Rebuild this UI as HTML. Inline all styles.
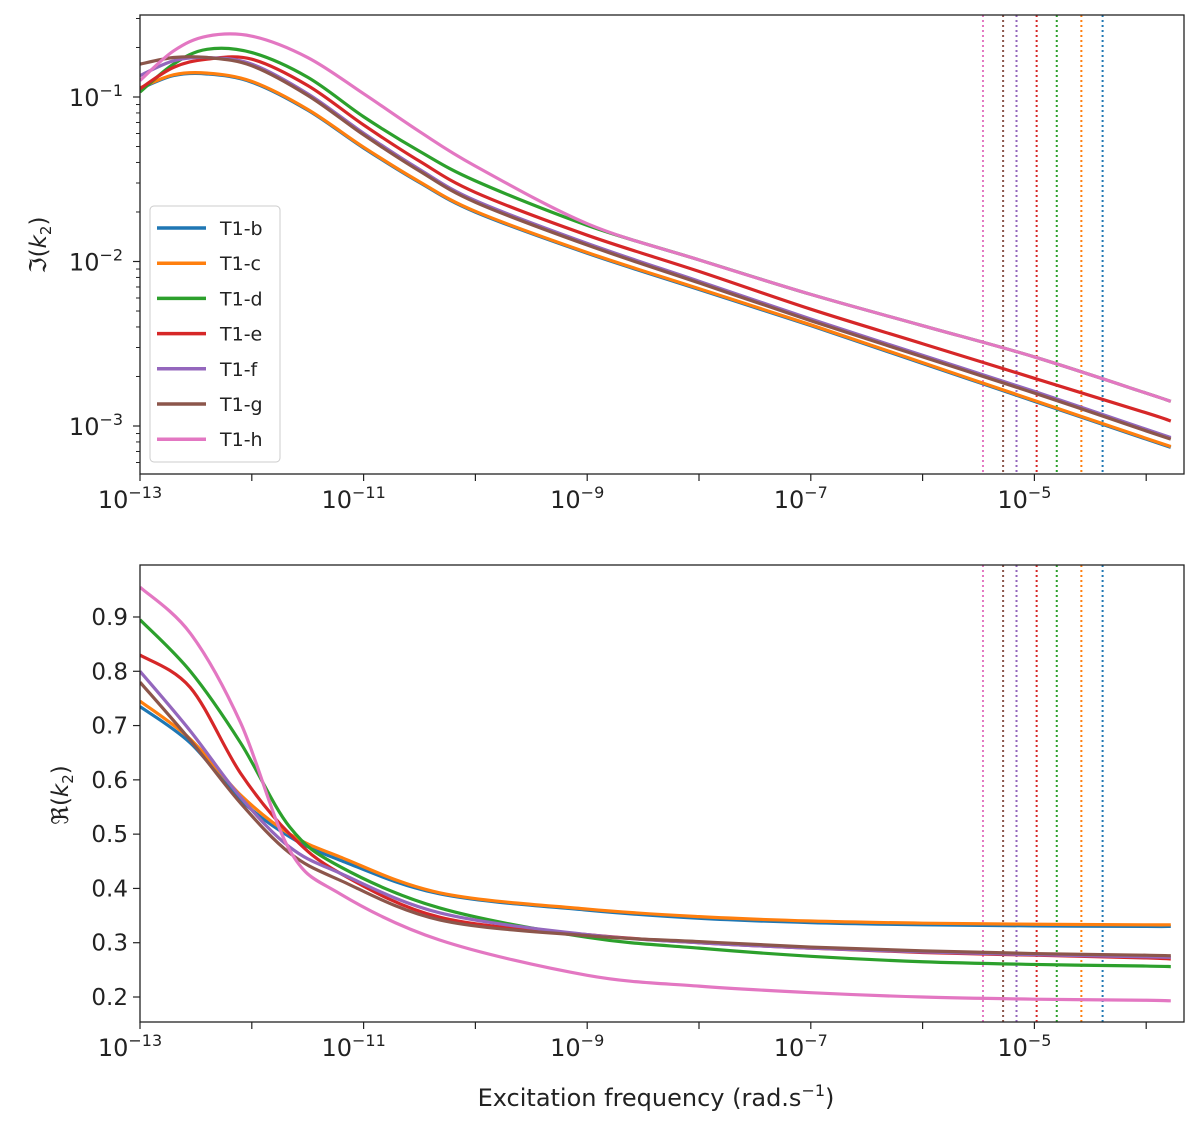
<!DOCTYPE html>
<html><head><meta charset="utf-8"><style>
body{margin:0;background:#fff;width:1200px;height:1120px;overflow:hidden}
svg text{font-family:"DejaVu Sans","Liberation Sans",sans-serif;fill:#222}
</style></head><body>
<svg id="chart" width="1200" height="1120" xmlns="http://www.w3.org/2000/svg"></svg>
<script>
const seriesNames=["T1-b","T1-c","T1-d","T1-e","T1-f","T1-g","T1-h"];
const seriesColors=["#1f77b4","#ff7f0e","#2ca02c","#d62728","#9467bd","#8c564b","#e377c2"];
const topFreqLog=[-13,-12.7,-12.4,-12,-11.5,-11,-10.5,-10,-9,-8,-7,-6,-5,-4,-3.78];
const imB=[-.95,-.87,-.86,-.91,-1.08,-1.31,-1.52,-1.70,-1.95,-2.17,-2.39,-2.62,-2.85,-3.08,-3.13];
const imC=[-.945,-.865,-.855,-.905,-1.075,-1.305,-1.515,-1.695,-1.945,-2.165,-2.385,-2.615,-2.845,-3.075,-3.125];
const imD=[-.97,-.80,-.71,-.73,-.88,-1.12,-1.33,-1.51,-1.78,-1.99,-2.2,-2.39,-2.58,-2.8,-2.85];
const imE=[-.95,-.82,-.77,-.77,-.93,-1.17,-1.39,-1.58,-1.84,-2.06,-2.29,-2.5,-2.71,-2.92,-2.97];
const imF=[-.87,-.78,-.76,-.80,-.98,-1.22,-1.44,-1.63,-1.89,-2.12,-2.35,-2.57,-2.79,-3.02,-3.07];
const imG=[-.80,-.76,-.76,-.81,-.99,-1.23,-1.45,-1.64,-1.90,-2.13,-2.36,-2.58,-2.80,-3.03,-3.08];
const imH=[-.90,-.72,-.63,-.63,-.76,-.98,-1.21,-1.42,-1.77,-1.99,-2.2,-2.39,-2.58,-2.8,-2.85];
const botFreqLog=[-13,-12.55,-12.1,-11.66,-11.21,-10.32,-9,-8,-7,-6,-5,-4,-3.78];
const reB=[.735,.668,.563,.495,.452,.39,.36,.345,.337,.333,.331,.33,.33];
const reC=[.745,.675,.572,.50,.458,.392,.362,.348,.34,.336,.334,.333,.333];
const reD=[.895,.80,.668,.513,.44,.364,.31,.29,.275,.265,.26,.257,.256];
const reE=[.83,.77,.612,.50,.428,.347,.315,.30,.29,.282,.277,.272,.27];
const reF=[.80,.69,.568,.476,.428,.355,.315,.30,.29,.283,.278,.274,.273];
const reG=[.78,.673,.557,.465,.415,.342,.313,.302,.292,.285,.28,.277,.276];
const reH=[.955,.87,.705,.47,.39,.305,.24,.22,.208,.2,.196,.194,.193];
const resonanceLog=[-4.39,-4.58,-4.80,-4.98,-5.16,-5.28,-5.46]; // b..h
const xTickLog=[-13,-11,-9,-7,-5];
const yTopTickLog=[-1,-2,-3];
const yBotTicks=[0.2,0.3,0.4,0.5,0.6,0.7,0.8,0.9];

const NS="http://www.w3.org/2000/svg";
const svg=document.getElementById('chart');
function el(tag,attrs,parent){const e=document.createElementNS(NS,tag);for(const k in attrs)e.setAttribute(k,attrs[k]);(parent||svg).appendChild(e);return e;}
const L=140,R=1184,XMIN=-13,XMAX=-13+(R-L)/111.8;
const x=v=>L+(v-XMIN)/(XMAX-XMIN)*(R-L);
const T1=15,B1=474,YT=-1+82/164.5,YB=-3-48/164.5;
const yTop=v=>T1+(YT-v)/(YT-YB)*(B1-T1);
const T2=565,B2=1022,VT=0.9+52/543,VB=0.2-25/543;
const yBot=v=>T2+(VT-v)/(VT-VB)*(B2-T2);
function smooth(pts){let d=`M${pts[0][0]},${pts[0][1]}`;for(let i=0;i<pts.length-1;i++){const p0=pts[i-1]||pts[i],p1=pts[i],p2=pts[i+1],p3=pts[i+2]||p2;
d+=` C${p1[0]+(p2[0]-p0[0])/6},${p1[1]+(p2[1]-p0[1])/6} ${p2[0]-(p3[0]-p1[0])/6},${p2[1]-(p3[1]-p1[1])/6} ${p2[0]},${p2[1]}`;}return d;}
function sup(base,exp,attrs){const e=el('text',attrs);e.appendChild(document.createTextNode(base));const s=document.createElementNS(NS,'tspan');s.setAttribute('dy','-10');s.setAttribute('font-size','16');s.textContent=exp;e.appendChild(s);return e;}

function panel(top,bot,name){
  const g=el('g',{});
  
  
  const clip=el('clipPath',{id:'c'+name},g);el('rect',{x:L,y:top,width:R-L,height:bot-top},clip);
  resonanceLog.forEach((v,i)=>{const l=el('line',{x1:x(v),x2:x(v),y1:top,y2:bot,stroke:seriesColors[i],'stroke-width':2,'stroke-dasharray':'2,3'},g);
    
    });
  return g;
}
const gTop=panel(T1,B1,'imag-panel');
const imSeries=[imB,imC,imD,imE,imF,imG,imH];
[0,1,2,3,4,5,6].forEach(i=>{const p=el('path',{d:smooth(topFreqLog.map((f,j)=>[x(f),yTop(imSeries[i][j])])),fill:'none',stroke:seriesColors[i],'stroke-width':3.2,'clip-path':'url(#cimag-panel)'},gTop);
  
  });
el('rect',{x:L,y:T1,width:R-L,height:B1-T1,fill:'none',stroke:'#222','stroke-width':1.3});
const gBot=panel(T2,B2,'real-panel');
const reSeries=[reB,reC,reD,reE,reF,reG,reH];
[0,1,2,3,4,5,6].forEach(i=>{const p=el('path',{d:smooth(botFreqLog.map((f,j)=>[x(f),yBot(reSeries[i][j])])),fill:'none',stroke:seriesColors[i],'stroke-width':3.2,'clip-path':'url(#creal-panel)'},gBot);
  
  });
el('rect',{x:L,y:T2,width:R-L,height:B2-T2,fill:'none',stroke:'#222','stroke-width':1.3});
[[B1,'top'],[B2,'bottom']].forEach(([b,nm])=>{
  for(let d=-13;d<=-4;d++){el('line',{x1:x(d),x2:x(d),y1:b,y2:b+7,stroke:'#222','stroke-width':1.2});}
  xTickLog.forEach(v=>{const t=sup('10',String(v).replace('-','−'),{x:x(v)-10,y:b+34,'font-size':24,'text-anchor':'middle'});
    });
});
yTopTickLog.forEach(v=>{el('line',{x1:L-7,x2:L,y1:yTop(v),y2:yTop(v),stroke:'#222','stroke-width':1.2});
  const t=sup('10',String(v).replace('-','−'),{x:L-44,y:yTop(v)+9,'font-size':24,'text-anchor':'middle'});
  });
for(let d=-4;d<0;d++)for(let m=2;m<10;m++){const v=d+Math.log10(m);if(v<YT&&v>YB)el('line',{x1:L-4,x2:L,y1:yTop(v),y2:yTop(v),stroke:'#222','stroke-width':1});}
yBotTicks.forEach(v=>{el('line',{x1:L-7,x2:L,y1:yBot(v),y2:yBot(v),stroke:'#222','stroke-width':1.2});
  const t=el('text',{x:L-12,y:yBot(v)+8,'font-size':23,'text-anchor':'end'});t.textContent=v.toFixed(1);
  });
const yt1=el('text',{transform:'translate(46,245) rotate(-90)','font-size':23,'text-anchor':'middle'});yt1.innerHTML='ℑ(<tspan font-style="italic">k</tspan><tspan font-size="15" dy="5">2</tspan><tspan dy="-5">)</tspan>';

const yt2=el('text',{transform:'translate(68,795) rotate(-90)','font-size':23,'text-anchor':'middle'});yt2.innerHTML='ℜ(<tspan font-style="italic">k</tspan><tspan font-size="15" dy="5">2</tspan><tspan dy="-5">)</tspan>';

const xt=el('text',{x:656,y:1106,'font-size':24,'text-anchor':'middle'});xt.innerHTML='Excitation frequency (rad.s<tspan dy="-10" font-size="16">−1</tspan><tspan dy="10">)</tspan>';

const lg=el('g',{});


el('rect',{x:150,y:206,width:130,height:256,rx:4,fill:'#fff','fill-opacity':0.85,stroke:'#ccc'},lg);
seriesNames.forEach((n,i)=>{const yy=228+i*35.2;
  el('line',{x1:157,x2:206,y1:yy,y2:yy,stroke:seriesColors[i],'stroke-width':3.5},lg);
  const t=el('text',{x:220,y:yy+7,'font-size':19},lg);t.textContent=n;
  });
</script>
</body></html>
